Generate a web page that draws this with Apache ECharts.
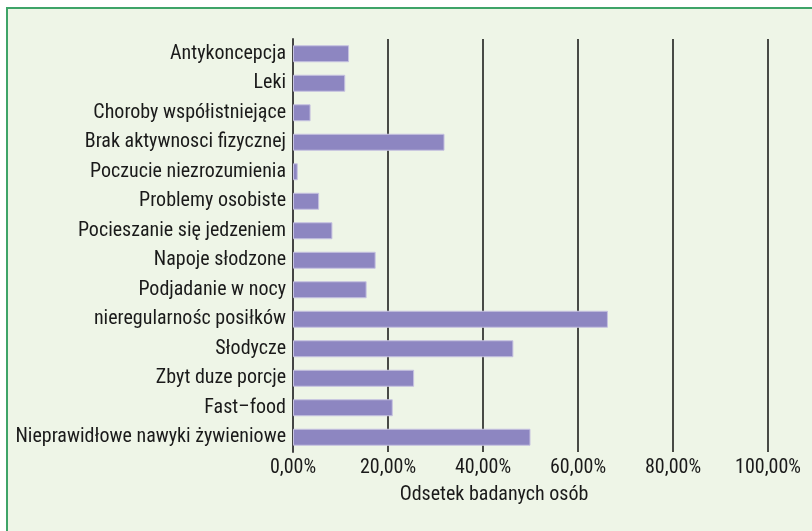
<!DOCTYPE html>
<html>
<head>
<meta charset="utf-8">
<script src="https://cdn.jsdelivr.net/npm/echarts@6/dist/echarts.min.js"></script>
<style>
  html, body { margin: 0; padding: 0; background: #fff; }
  #chart { width: 812px; height: 531px; }
</style>
</head>
<body>
<div id="chart"></div>
<script>
var categories = [
  'Antykoncepcja',
  'Leki',
  'Choroby współistniejące',
  'Brak aktywnosci fizycznej',
  'Poczucie niezrozumienia',
  'Problemy osobiste',
  'Pocieszanie się jedzeniem',
  'Napoje słodzone',
  'Podjadanie w nocy',
  'nieregularnośc posiłków',
  'Słodycze',
  'Zbyt duze porcje',
  'Fast–food',
  'Nieprawidłowe nawyki żywieniowe'
];
var values = [11.8, 11.0, 3.7, 31.9, 1.0, 5.5, 8.3, 17.4, 15.5, 66.3, 46.4, 25.5, 21.0, 50.0];
var axisTitle = 'Odsetek badanych osób';

var fontFamily = '"Liberation Sans Narrow", "Roboto Condensed", "DejaVu Sans Condensed", sans-serif';

var myChart = echarts.init(document.getElementById('chart'), null, { renderer: 'canvas' });

var option = {
  animation: false,
  backgroundColor: '#fff',
  textStyle: { fontFamily: fontFamily },
  graphic: [
    {
      type: 'rect',
      z: -10,
      shape: { x: 7, y: 8, width: 830, height: 540 },
      style: { fill: '#eef5e7', stroke: '#3ea468', lineWidth: 2 }
    },
    {
      type: 'text',
      x: 494,
      y: 495,
      style: {
        text: axisTitle,
        fill: '#1a1a1a',
        font: '20px ' + fontFamily,
        align: 'center',
        verticalAlign: 'middle'
      }
    }
  ],
  grid: { left: 293, right: 44, top: 39, bottom: 79 },
  xAxis: {
    type: 'value',
    min: 0,
    max: 100,
    interval: 20,
    axisLine: { show: false },
    axisTick: { show: false },
    splitLine: { show: true, lineStyle: { color: '#111', width: 1.5 } },
    axisLabel: {
      margin: 6,
      color: '#1a1a1a',
      fontSize: 20,
      fontFamily: fontFamily,
      formatter: function (v) { return v.toFixed(2).replace('.', ',') + '%'; }
    }
  },
  yAxis: {
    type: 'category',
    inverse: true,
    data: categories,
    axisLine: { show: true, lineStyle: { color: '#444', width: 2 } },
    axisTick: { show: false },
    axisLabel: {
      margin: 7,
      color: '#1a1a1a',
      fontSize: 20,
      fontFamily: fontFamily
    }
  },
  series: [
    {
      type: 'bar',
      data: values,
      barWidth: 17,
      itemStyle: { color: '#8d86c1', borderColor: '#c6c2e0', borderWidth: 1 }
    }
  ]
};

myChart.setOption(option);
window.addEventListener('resize', myChart.resize);
</script>
</body>
</html>
